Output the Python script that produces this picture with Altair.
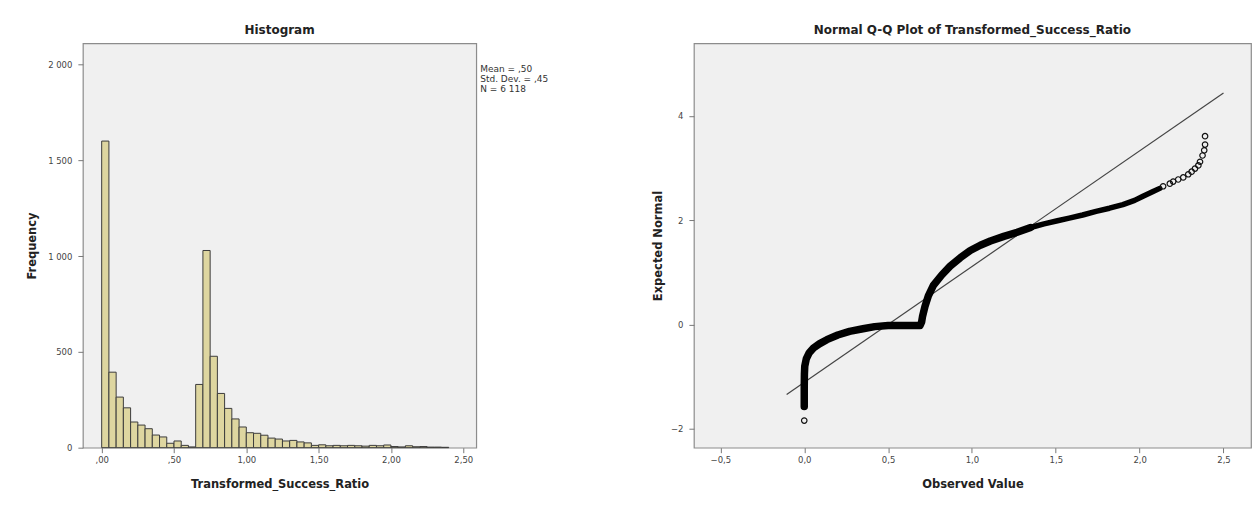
import altair as alt
import pandas as pd

# ---------------- data ----------------
hist_bin_start = [0.00, 0.05, 0.10, 0.15, 0.20, 0.25, 0.30, 0.35, 0.40, 0.45,
                  0.50, 0.55, 0.60, 0.65, 0.70, 0.75, 0.80, 0.85, 0.90, 0.95,
                  1.00, 1.05, 1.10, 1.15, 1.20, 1.25, 1.30, 1.35, 1.40, 1.45,
                  1.50, 1.55, 1.60, 1.65, 1.70, 1.75, 1.80, 1.85, 1.90, 1.95,
                  2.00, 2.05, 2.10, 2.15, 2.20, 2.25, 2.30, 2.35]
hist_bin_end = [0.05, 0.10, 0.15, 0.20, 0.25, 0.30, 0.35, 0.40, 0.45, 0.50,
                0.55, 0.60, 0.65, 0.70, 0.75, 0.80, 0.85, 0.90, 0.95, 1.00,
                1.05, 1.10, 1.15, 1.20, 1.25, 1.30, 1.35, 1.40, 1.45, 1.50,
                1.55, 1.60, 1.65, 1.70, 1.75, 1.80, 1.85, 1.90, 1.95, 2.00,
                2.05, 2.10, 2.15, 2.20, 2.25, 2.30, 2.35, 2.40]
hist_counts = [1600, 394, 264, 208, 134, 118, 99, 66, 56, 23,
               35, 12, 4, 330, 1029, 477, 283, 205, 150, 108,
               78, 75, 65, 50, 45, 35, 38, 30, 25, 12,
               15, 10, 12, 10, 12, 10, 8, 12, 10, 14,
               6, 4, 10, 5, 6, 3, 3, 2]

stats_lines = ["Mean = ,50", "Std. Dev. = ,45", "N = 6 118"]

# dense band of Q-Q points (observed, expected normal): lower, very dense part
qq_band_x = [0.000, 0.000, 0.001, 0.003, 0.012, 0.030, 0.055, 0.090, 0.135, 0.200,
             0.270, 0.350, 0.420, 0.500, 0.600, 0.690, 0.700, 0.705, 0.720, 0.740,
             0.770, 0.820, 0.870, 0.930, 0.990, 1.050, 1.110, 1.190, 1.270, 1.350]
qq_band_y = [-1.57, -1.20, -0.95, -0.80, -0.66, -0.54, -0.45, -0.37, -0.29, -0.20,
             -0.13, -0.08, -0.04, -0.02, -0.02, -0.02, 0.05, 0.15, 0.35, 0.55,
             0.75, 0.95, 1.12, 1.28, 1.42, 1.52, 1.60, 1.69, 1.77, 1.86]
# upper, thinner part of the band
qq_upper_x = [1.350, 1.430, 1.510, 1.580, 1.660, 1.740, 1.820, 1.900, 1.970, 2.020,
              2.080, 2.120]
qq_upper_y = [1.86, 1.93, 1.99, 2.04, 2.10, 2.17, 2.23, 2.30, 2.38, 2.46,
              2.55, 2.61]
# sparse, individually visible points
qq_tail_x = [0.000, 2.140, 2.180, 2.200, 2.230, 2.260, 2.290, 2.310, 2.330, 2.350,
             2.360, 2.375, 2.385, 2.390, 2.390]
qq_tail_y = [-1.84, 2.65, 2.70, 2.74, 2.78, 2.82, 2.88, 2.93, 2.99, 3.05,
             3.12, 3.24, 3.34, 3.45, 3.61]

ref_x = [-0.105, 2.50]
ref_y = [-1.34, 4.44]

# ---------------- styling ----------------
FONT = "DejaVu Sans"
PANEL_H = 405

hist_df = pd.DataFrame({"start": hist_bin_start, "end": hist_bin_end, "count": hist_counts})
band_df = pd.DataFrame({"x": qq_band_x, "y": qq_band_y, "i": list(range(len(qq_band_x)))})
upper_df = pd.DataFrame({"x": qq_upper_x, "y": qq_upper_y, "i": list(range(len(qq_upper_x)))})
tail_df = pd.DataFrame({"x": qq_tail_x, "y": qq_tail_y})
ref_df = pd.DataFrame({"x": ref_x, "y": ref_y})

base_axis = dict(
    labelFont=FONT, labelFontSize=8.5, labelColor="#444444",
    tickColor="#777777", tickSize=5, tickWidth=1,
    domain=False, grid=False,
    titleFont=FONT, titleFontSize=11.5, titleFontWeight="bold", titleColor="#222222",
)

x_hist = alt.Scale(domain=[-0.13, 2.59], nice=False, zero=False)
y_hist = alt.Scale(domain=[0, 2110], nice=False, zero=False)

bars = alt.Chart(hist_df).mark_bar(
    fill="#DED6A0", stroke="#3c3c3c", strokeWidth=1
).encode(
    x=alt.X("start:Q", scale=x_hist,
            axis=alt.Axis(values=[0, 0.5, 1, 1.5, 2, 2.5],
                          labelExpr="replace(datum.value < 1 ? substring(format(datum.value, '.2f'), 1) : format(datum.value, '.2f'), '.', ',')",
                          title="Transformed_Success_Ratio", titlePadding=14,
                          labelPadding=3, **base_axis)),
    x2="end:Q",
    y=alt.Y("count:Q", scale=y_hist,
            axis=alt.Axis(values=[0, 500, 1000, 1500, 2000],
                          labelExpr="datum.value >= 1000 ? replace(format(datum.value, ','), ',', ' ') : format(datum.value, 'd')",
                          title="Frequency", titlePadding=7, labelPadding=6,
                          minExtent=38, maxExtent=38, **base_axis)),
    y2=alt.datum(0),
)

stats = alt.Chart(alt.Data(values=[{}])).mark_text(
    text=stats_lines, align="left", baseline="top", font=FONT,
    fontSize=9, lineHeight=10, color="#333333"
).encode(x=alt.value(398), y=alt.value(22))

left = alt.layer(bars, stats).properties(
    width=394, height=PANEL_H,
    title=alt.TitleParams("Histogram", font=FONT, fontSize=12, fontWeight="bold",
                          color="#222222", offset=6, anchor="middle"),
)

x_qq = alt.Scale(domain=[-0.658, 2.664], nice=False, zero=False)
y_qq = alt.Scale(domain=[-2.36, 5.39], nice=False, zero=False)

x_axis_qq = alt.Axis(values=[-0.5, 0, 0.5, 1, 1.5, 2, 2.5],
                     labelExpr="replace(format(datum.value, '.1f'), '.', ',')",
                     title="Observed Value", titlePadding=14, labelPadding=3,
                     **base_axis)
y_axis_qq = alt.Axis(values=[-2, 0, 2, 4], format="d",
                     title="Expected Normal", titlePadding=10.5, labelPadding=6,
                     minExtent=20, maxExtent=20, **base_axis)

ref_line = alt.Chart(ref_df).mark_line(color="#444444", strokeWidth=1.2).encode(
    x=alt.X("x:Q", scale=x_qq, axis=x_axis_qq),
    y=alt.Y("y:Q", scale=y_qq, axis=y_axis_qq),
)
band = alt.Chart(band_df).mark_line(
    color="#000000", strokeWidth=7.5, strokeCap="round", strokeJoin="round"
).encode(
    x=alt.X("x:Q", scale=x_qq, axis=x_axis_qq),
    y=alt.Y("y:Q", scale=y_qq, axis=y_axis_qq),
    order=alt.Order("i:Q"),
)
upper = alt.Chart(upper_df).mark_line(
    color="#000000", strokeWidth=5.5, strokeCap="round", strokeJoin="round"
).encode(
    x=alt.X("x:Q", scale=x_qq, axis=x_axis_qq),
    y=alt.Y("y:Q", scale=y_qq, axis=y_axis_qq),
    order=alt.Order("i:Q"),
)
tail = alt.Chart(tail_df).mark_point(
    shape="circle", filled=False, color="#111111", size=30, strokeWidth=1.2, opacity=1
).encode(
    x=alt.X("x:Q", scale=x_qq, axis=x_axis_qq),
    y=alt.Y("y:Q", scale=y_qq, axis=y_axis_qq),
)

right = alt.layer(ref_line, band, upper, tail).properties(
    width=558, height=PANEL_H,
    title=alt.TitleParams("Normal Q-Q Plot of Transformed_Success_Ratio", font=FONT,
                          fontSize=12, fontWeight="bold", color="#222222",
                          offset=6, anchor="middle"),
)

chart = alt.hconcat(left, right, spacing=102).properties(
    padding={"left": 18, "top": 15, "right": 0, "bottom": 0},
    background="white",
).configure_view(
    fill="#F0F0F0", stroke="#8c8c8c", strokeWidth=1.2
)

chart.save("out.html", embed_options={"renderer": "svg", "actions": False})
